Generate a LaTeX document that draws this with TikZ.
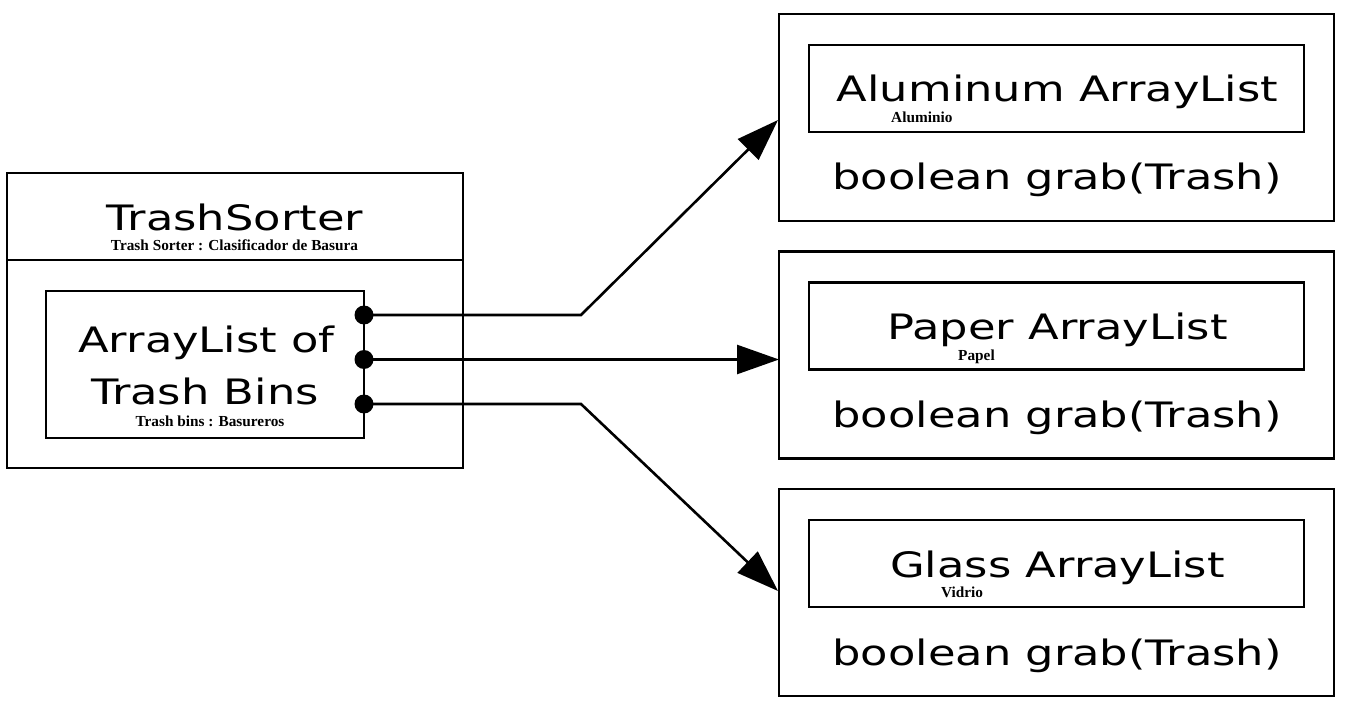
\documentclass[tikz,border=0pt]{standalone}
\usepackage{fontspec}
\setmainfont{DejaVu Sans}
\newfontfamily\widefont[FakeStretch=1.28]{DejaVu Sans}
\newfontfamily\smallserif{Liberation Serif}
\usetikzlibrary{arrows.meta,calc}
\begin{document}
\begin{tikzpicture}[x=1pt,y=-1pt,
  box/.style={draw,line width=2.8pt,rectangle,inner sep=0pt,outer sep=0pt},
  big/.style={font=\widefont\fontsize{35}{40}\selectfont,inner sep=0pt,anchor=base},
  bigflat/.style={big,text depth=0pt},
  tiny/.style={font=\smallserif\bfseries\fontsize{15.3}{16}\selectfont,inner sep=0pt,anchor=base,text height=9pt},
  tinyw/.style={tiny,anchor=base west},
  arr/.style={line width=2.6pt,-{Triangle[length=42pt,width=29pt]}},
  dot/.style={circle,fill=black,minimum size=19pt,inner sep=0pt}]
\useasboundingbox (0,0) rectangle (1347,711);
% left class
\node[box,minimum width=456pt,minimum height=87pt] (ts) at (235,216.5) {};
\node[box,minimum width=456pt,minimum height=208pt] (tsb) at (235,364) {};
\node[bigflat] (tsl) at (235,230.7) {TrashSorter};
\node[tiny] (tss) at (234.5,250.7) {Trash Sorter : Clasificador de Basura};
\node[box,minimum width=318pt,minimum height=147pt] (al) at (205,364.5) {};
\node[bigflat] (all1) at (206.5,352.7) {ArrayList of};
\node[bigflat] (all2) at (205,404) {Trash Bins};
\node[tiny] (als) at (210,426.7) {Trash bins : Basureros};
% right classes
\foreach \n/\y/\t/\s/\sx in {1/0/Aluminum ArrayList/Aluminio/891,2/237.5/Paper ArrayList/Papel/958,3/475/Glass ArrayList/Vidrio/941}{
  \node[box,minimum width=555pt,minimum height=207pt] (b\n) at (1056.5,117.5+\y) {};
  \node[box,minimum width=495pt,minimum height=87pt] (i\n) at (1056.5,88.5+\y) {};
  \node[bigflat] (l\n) at (1057.5,102+\y) {\t};
  \node[tinyw] (s\n) at (\sx,122.5+\y) {\s};
  \node[big] (g\n) at (1057,190+\y) {boolean grab(Trash)};
}
% connectors
\coordinate (d1) at (364,315);
\coordinate (d2) at (364,359.5);
\coordinate (d3) at (364,404);
\coordinate (k1) at (581,315);
\coordinate (k3) at (581,404);
\coordinate (t1) at (778,120);
\coordinate (t3) at (778,591);
\draw[arr] (d1) -- (k1) -- (t1);
\draw[arr] (d2) -- (b2.west |- d2);
\draw[arr] (d3) -- (k3) -- (t3);
\node[dot] at (d1) {};
\node[dot] at (d2) {};
\node[dot] at (d3) {};
\end{tikzpicture}
\end{document}
